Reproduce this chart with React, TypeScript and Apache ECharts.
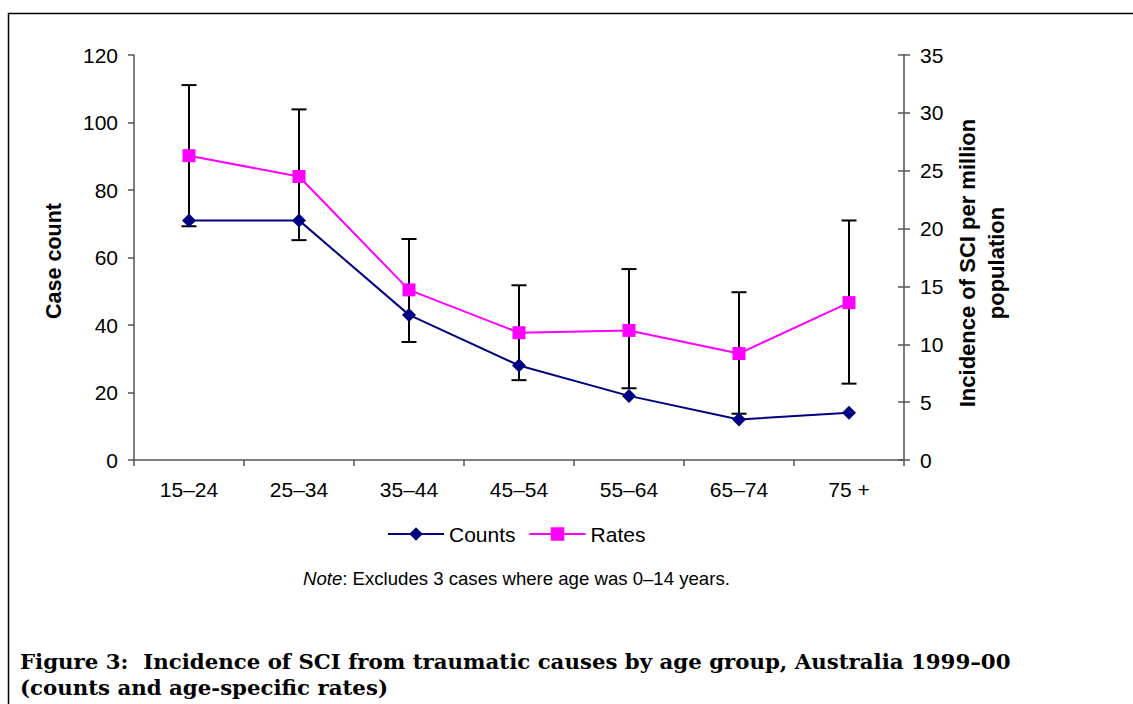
import React, { useEffect, useRef } from "react";
import * as echarts from "echarts";

const categories = ["15–24", "25–34", "35–44", "45–54", "55–64", "65–74", "75 +"];
const counts = [71, 71, 43, 28, 19, 12, 14];
const rates = [26.3, 24.5, 14.7, 11.0, 11.2, 9.2, 13.6];
const rateLow = [20.2, 19.0, 10.2, 6.9, 6.2, 4.0, 6.6];
const rateHigh = [32.4, 30.3, 19.1, 15.1, 16.5, 14.5, 20.7];
const countTicks = { min: 0, max: 120, interval: 20 };
const rateTicks = { min: 0, max: 35, interval: 5 };

const SANS = "'Liberation Sans', Arial, sans-serif";

export default function App() {
  const ref = useRef<HTMLDivElement>(null);
  useEffect(() => {
    if (!ref.current) return;
    const chart = echarts.init(ref.current, null, { renderer: "svg" });
    const axisLineColor = "#555";
    const errData = categories.map((_, i) => [i, rateLow[i], rateHigh[i]]);
    chart.setOption({
      animation: false,
      backgroundColor: "#fff",
      grid: { left: 134, right: 229, top: 55, bottom: 244, containLabel: false },
      legend: {
        left: 387,
        top: 523,
        padding: 0,
        itemWidth: 56,
        itemHeight: 17,
        itemGap: 13,
        textStyle: { fontFamily: SANS, fontSize: 21, color: "#000", lineHeight: 22 },
        data: ["Counts", "Rates"],
      },
      xAxis: {
        type: "category",
        data: categories,
        boundaryGap: true,
        axisLine: { lineStyle: { color: axisLineColor, width: 1.5 } },
        axisTick: { show: true, length: 6, lineStyle: { color: axisLineColor, width: 1.5 } },
        axisLabel: { fontFamily: SANS, fontSize: 21, color: "#000", margin: 19 },
        splitLine: { show: false },
      },
      yAxis: [
        {
          type: "value",
          position: "left",
          ...countTicks,
          axisLine: { show: true, lineStyle: { color: axisLineColor, width: 1.5 } },
          axisTick: { show: true, length: 6, lineStyle: { color: axisLineColor, width: 1.5 } },
          axisLabel: { fontFamily: SANS, fontSize: 21, color: "#000", margin: 16 },
          splitLine: { show: false },
        },
        {
          type: "value",
          position: "right",
          ...rateTicks,
          axisLine: { show: true, lineStyle: { color: axisLineColor, width: 1.5 } },
          axisTick: { show: true, length: 6, lineStyle: { color: axisLineColor, width: 1.5 } },
          axisLabel: { fontFamily: SANS, fontSize: 21, color: "#000", margin: 16 },
          splitLine: { show: false },
        },
        {
          type: "value",
          position: "right",
          ...rateTicks,
          axisLine: { show: false },
          axisTick: { show: true, inside: true, length: 6, lineStyle: { color: axisLineColor, width: 1.5 } },
          axisLabel: { show: false },
          splitLine: { show: false },
        },
      ],
      series: [
        {
          type: "custom",
          name: "errors",
          yAxisIndex: 1,
          z: 1,
          data: errData,
          encode: { x: 0, y: [1, 2] },
          renderItem: (params: any, api: any) => {
            const x = api.value(0);
            const pHi = api.coord([x, api.value(2)]);
            const pLo = api.coord([x, api.value(1)]);
            const w = 7.5;
            const st = { stroke: "#000", lineWidth: 2 };
            return {
              type: "group",
              children: [
                { type: "line", shape: { x1: pHi[0], y1: pHi[1], x2: pLo[0], y2: pLo[1] }, style: st },
                { type: "line", shape: { x1: pHi[0] - w, y1: pHi[1], x2: pHi[0] + w, y2: pHi[1] }, style: st },
                { type: "line", shape: { x1: pLo[0] - w, y1: pLo[1], x2: pLo[0] + w, y2: pLo[1] }, style: st },
              ],
            };
          },
        },
        {
          type: "line",
          name: "Counts",
          yAxisIndex: 0,
          z: 3,
          data: counts,
          symbol: "diamond",
          symbolSize: 14,
          color: "#000080",
          lineStyle: { color: "#000080", width: 2 },
          itemStyle: { color: "#000080" },
        },
        {
          type: "line",
          name: "Rates",
          yAxisIndex: 1,
          z: 3,
          data: rates,
          symbol: "rect",
          symbolSize: 13,
          color: "#FF00FF",
          lineStyle: { color: "#FF00FF", width: 2 },
          itemStyle: { color: "#FF00FF" },
        },
      ],
      graphic: [
        {
          type: "rect",
          shape: { x: 8.5, y: 13.5, width: 1200, height: 800 },
          style: { fill: "none", stroke: "#000", lineWidth: 1.5 },
          silent: true,
        },
        {
          type: "text",
          x: 54,
          y: 261,
          rotation: Math.PI / 2,
          style: {
            text: "Case count",
            fontFamily: SANS,
            fontSize: 21.5,
            fontWeight: "bold",
            fill: "#000",
            align: "center",
            verticalAlign: "middle",
          },
        },
        {
          type: "text",
          x: 982,
          y: 263,
          rotation: Math.PI / 2,
          style: {
            text: "Incidence of SCI per million\npopulation",
            fontFamily: SANS,
            fontSize: 22,
            lineHeight: 29,
            fontWeight: "bold",
            fill: "#000",
            align: "center",
            verticalAlign: "middle",
          },
        },
        {
          type: "text",
          x: 303,
          y: 578,
          style: {
            rich: {
              i: { fontFamily: SANS, fontSize: 18.6, fontStyle: "italic", fill: "#000" },
              n: { fontFamily: SANS, fontSize: 18.6, fill: "#000" },
            },
            text: "{i|Note}{n|: Excludes 3 cases where age was 0–14 years.}",
            verticalAlign: "middle",
          },
        },
        {
          type: "text",
          x: 20,
          y: 661,
          style: {
            text: "Figure 3:  Incidence of SCI from traumatic causes by age group, Australia 1999–00",
            fontFamily: "'DejaVu Serif', serif",
            fontSize: 21.3,
            fontWeight: "bold",
            fill: "#000",
            verticalAlign: "middle",
          },
        },
        {
          type: "text",
          x: 20,
          y: 687,
          style: {
            text: "(counts and age-specific rates)",
            fontFamily: "'DejaVu Serif', serif",
            fontSize: 21.3,
            fontWeight: "bold",
            fill: "#000",
            verticalAlign: "middle",
          },
        },
      ],
    });
    return () => chart.dispose();
  }, []);
  return (
    <div
      ref={ref}
      style={{ position: "fixed", left: 0, top: 0, width: 1133, height: 704 }}
    />
  );
}
